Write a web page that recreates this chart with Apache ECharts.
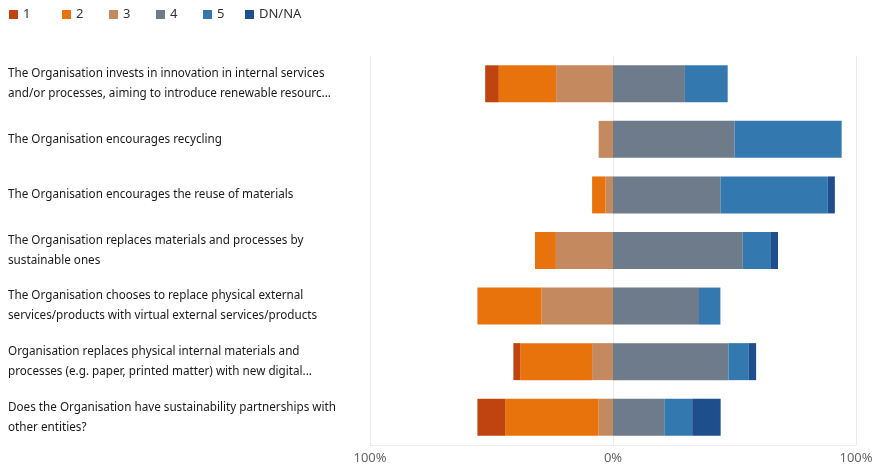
<!DOCTYPE html>
<html>
<head>
<meta charset="utf-8">
<script src="https://cdn.jsdelivr.net/npm/echarts@6/dist/echarts.min.js"></script>
<style>
  html, body { margin: 0; padding: 0; background: #fff; }
  #chart { width: 878px; height: 466px; }
</style>
</head>
<body>
<div id="chart"></div>
<script>
// Statements, top to bottom
const categories = [
  'The Organisation invests in innovation in internal services\nand/or processes, aiming to introduce renewable resourc...',
  'The Organisation encourages recycling',
  'The Organisation encourages the reuse of materials',
  'The Organisation replaces materials and processes by\nsustainable ones',
  'The Organisation chooses to replace physical external\nservices/products with virtual external services/products',
  'Organisation replaces physical internal materials and\nprocesses (e.g. paper, printed matter) with new digital...',
  'Does the Organisation have sustainability partnerships with\nother entities?'
];

// Share of answers (%) per statement
const answer1  = [5.6, 0,    0,    0,    0,    2.8,  11.4];
const answer2  = [23.6, 0,   5.5,  8.6,  26.4, 29.6, 38.5];
const answer3  = [23.4, 5.9, 3.1,  23.5, 29.4, 8.6,  5.9];
const answer4  = [29.6, 50.0, 44.2, 53.4, 35.4, 47.5, 21.1];
const answer5  = [17.6, 44.1, 44.2, 11.6, 8.8,  8.4,  11.5];
const answerNA = [0,    0,    2.9,  2.9,  0,    3.0,  11.7];

const legendNames = ['1', '2', '3', '4', '5', 'DN/NA'];
const tickLabels = ['100%', '0%', '100%'];

const colors = {
  '1': '#c0440f',
  '2': '#e8730c',
  '3': '#c4895f',
  '4': '#6e7b8b',
  '5': '#3478b0',
  'DN/NA': '#1f4e8c'
};

// Disagreement grows leftwards from zero, agreement rightwards
function makeSeries(name, values, negative) {
  return {
    name: name,
    type: 'bar',
    stack: 'total',
    barWidth: 37,
    itemStyle: { color: colors[name] },
    emphasis: { disabled: true },
    data: values.map(v => negative ? -v : v)
  };
}

// One legend entry per answer, laid out on a fixed pitch
const legendLeft = [9, 62, 109, 156, 203, 245];
const legends = legendNames.map((name, i) => ({
  left: legendLeft[i],
  top: 8,
  padding: 0,
  itemWidth: 9,
  itemHeight: 9,
  icon: 'rect',
  data: [name],
  textStyle: { fontSize: 13, color: '#333', fontFamily: 'Noto Sans' }
}));

const chart = echarts.init(document.getElementById('chart'), null, { renderer: 'canvas' });

chart.setOption({
  animation: false,
  textStyle: { fontFamily: 'Noto Sans' },
  legend: legends,
  grid: { left: 370, right: 22, top: 56, bottom: 21, containLabel: false },
  xAxis: {
    type: 'value',
    min: -100,
    max: 100,
    interval: 100,
    axisLine: { show: true, lineStyle: { color: '#ededed' } },
    axisTick: { show: false },
    splitLine: { show: true, lineStyle: { color: '#ebebeb', width: 1 } },
    axisLabel: {
      color: '#666',
      fontSize: 13,
      margin: 7,
      formatter: v => tickLabels[(v + 100) / 100]
    }
  },
  yAxis: {
    type: 'category',
    inverse: true,
    data: categories,
    axisLine: { show: false },
    axisTick: { show: false },
    axisLabel: {
      align: 'left',
      margin: 362,
      color: '#1a1a1a',
      fontSize: 11.7,
      lineHeight: 20,
      fontFamily: 'Noto Sans'
    }
  },
  series: [
    makeSeries('3', answer3, true),
    makeSeries('2', answer2, true),
    makeSeries('1', answer1, true),
    makeSeries('4', answer4, false),
    makeSeries('5', answer5, false),
    makeSeries('DN/NA', answerNA, false)
  ]
});
</script>
</body>
</html>
